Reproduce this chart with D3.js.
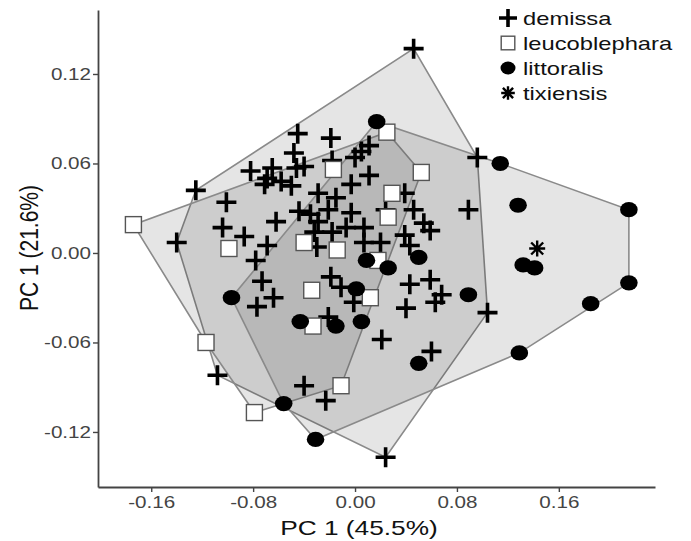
<!DOCTYPE html>
<html>
<head>
<meta charset="utf-8">
<script src="https://cdn.jsdelivr.net/npm/d3@7"></script>
<style>
body { margin: 0; background: #fff; }
svg text { font-family: "Liberation Sans", Arial, sans-serif; }
</style>
</head>
<body>
<div id="chart"></div>
<script>
var xTicks = [-0.16, -0.08, 0, 0.08, 0.16]
var yTicks = [-0.12, -0.06, 0, 0.06, 0.12]
var xTitle = "PC 1 (45.5%)",
    yTitle = "PC 1 (21.6%)"
var species = ["demissa", "leucoblephara", "littoralis", "tixiensis"]

var demissaX = [0.046, -0.045, -0.048, -0.019, -0.018, 0.011, 0.005, 0.000, 0.096, -0.125,
  -0.082, -0.069, -0.065, -0.058, -0.050, -0.046, -0.071, -0.101, -0.104, -0.087,
  -0.069, -0.078, -0.062, -0.044, -0.035, -0.029, -0.030, -0.073, -0.064, -0.077,
  -0.140, -0.040, 0.011, -0.003, -0.015, -0.021, -0.003, -0.029, -0.032, -0.018,
  -0.007, 0.007, 0.007, 0.020, 0.039, 0.046, 0.024, 0.054, 0.059, 0.039,
  0.043, 0.089, -0.019, -0.011, -0.001, 0.043, 0.059, 0.068, 0.063, 0.040,
  0.104, -0.021, -0.108, -0.040, -0.023, 0.021, 0.060, 0.024]
var demissaY = [0.137, 0.080, 0.067, 0.077, 0.062, 0.072, 0.068, 0.064, 0.064, 0.042,
  0.055, 0.050, 0.057, 0.048, 0.045, 0.057, 0.046, 0.034, 0.017, 0.011,
  0.005, -0.005, 0.021, 0.028, 0.026, 0.040, 0.004, -0.019, -0.030, -0.036,
  0.007, 0.058, 0.052, 0.046, 0.037, 0.029, 0.027, 0.021, 0.014, 0.014,
  0.017, 0.017, 0.007, 0.007, 0.040, 0.029, 0.029, 0.020, 0.015, 0.012,
  0.005, 0.029, -0.016, -0.023, -0.033, -0.021, -0.018, -0.028, -0.033, -0.037,
  -0.040, -0.043, -0.082, -0.089, -0.099, -0.058, -0.066, -0.137]

var leucoX = [-0.174, -0.117, -0.079, -0.099, -0.040, -0.034, -0.033, -0.011, 0.012, -0.014,
  -0.017, 0.025, 0.052, 0.029, 0.026, 0.018]
var leucoY = [0.019, -0.060, -0.107, 0.003, 0.007, -0.025, -0.049, -0.089, -0.030, 0.002,
  0.056, 0.081, 0.054, 0.040, 0.024, -0.005]

var littoX = [0.017, 0.114, 0.128, 0.215, 0.132, 0.141, 0.215, 0.185, 0.129, 0.089,
  0.050, 0.009, 0.026, 0.001, 0.050, -0.015, 0.005, -0.043, -0.097, -0.056, -0.031]
var littoY = [0.088, 0.060, 0.032, 0.029, -0.008, -0.010, -0.020, -0.034, -0.067, -0.028,
  -0.003, -0.005, -0.010, -0.024, -0.074, -0.049, -0.046, -0.046, -0.030, -0.101, -0.125]

var tixiX = [0.143]
var tixiY = [0.003]

var width = 691, height = 541
var margin = {left: 98, right: 36, top: 10, bottom: 54}

var svg = d3.select("#chart").append("svg")
    .attr("width", width)
    .attr("height", height)

var x = d3.scaleLinear().domain([-0.2018, 0.2355]).range([margin.left, width - margin.right])
var y = d3.scaleLinear().domain([-0.1569, 0.1629]).range([height - margin.bottom, margin.top])

function pts(xs, ys) {
  return xs.map(function(v, i) { return {x: v, y: ys[i]} })
}
var groups = [
  {name: "demissa", shape: "cross", data: pts(demissaX, demissaY)},
  {name: "leucoblephara", shape: "square", data: pts(leucoX, leucoY)},
  {name: "littoralis", shape: "circle", data: pts(littoX, littoY)},
  {name: "tixiensis", shape: "star", data: pts(tixiX, tixiY)}
]

// hulls
groups.forEach(function(g) {
  var hull = d3.polygonHull(g.data.map(function(d) { return [x(d.x), y(d.y)] }))
  if (!hull) return
  svg.append("path")
      .attr("d", "M" + hull.join("L") + "Z")
      .attr("fill", "#000")
      .attr("fill-opacity", 0.1)
      .attr("stroke", "#8a8a8a")
      .attr("stroke-width", 1.6)
})

function drawSymbol(sel, shape, s) {
  if (shape == "cross") {
    sel.append("path").attr("d", "M" + (-s) + ",0H" + s + "M0," + (-s) + "V" + s)
        .attr("stroke", "#000").attr("stroke-width", 3.6)
  } else if (shape == "square") {
    sel.append("rect").attr("x", -s * 0.8).attr("y", -s * 0.8)
        .attr("width", s * 1.6).attr("height", s * 1.6)
        .attr("fill", "#fff").attr("stroke", "#555").attr("stroke-width", 1.4)
  } else if (shape == "circle") {
    sel.append("ellipse").attr("rx", s * 0.88).attr("ry", s * 0.76).attr("fill", "#000")
  } else {
    var a = s * 0.8
    sel.append("path")
        .attr("d", "M" + (-a) + ",0H" + a + "M0," + (-a) + "V" + a +
          "M" + (-a * 0.75) + "," + (-a * 0.75) + "L" + (a * 0.75) + "," + (a * 0.75) +
          "M" + (-a * 0.75) + "," + (a * 0.75) + "L" + (a * 0.75) + "," + (-a * 0.75))
        .attr("stroke", "#000").attr("stroke-width", 2.4)
  }
}

// points
groups.forEach(function(g) {
  svg.append("g").selectAll("g")
    .data(g.data)
    .enter().append("g")
      .attr("transform", function(d) { return "translate(" + x(d.x) + "," + y(d.y) + ")" })
      .each(function() { drawSymbol(d3.select(this), g.shape, 10) })
})

// axes
var xAxis = svg.append("g")
    .attr("transform", "translate(0," + (height - margin.bottom) + ")")
    .call(d3.axisBottom(x).tickValues(xTicks).tickSize(5).tickSizeOuter(0)
      .tickFormat(function(d) { return d.toFixed(2) }))
var yAxis = svg.append("g")
    .attr("transform", "translate(" + margin.left + ",0)")
    .call(d3.axisLeft(y).tickValues(yTicks).tickSize(5).tickSizeOuter(0)
      .tickFormat(function(d) { return d.toFixed(2) }))

svg.selectAll(".domain").attr("stroke", "#444").attr("stroke-width", 1.8)
svg.selectAll(".tick line").attr("stroke", "#444").attr("stroke-width", 1.4)
xAxis.selectAll(".tick text")
    .attr("font-size", 16.5).attr("fill", "#444")
    .attr("y", 9.6).attr("dy", "0.71em")
    .attr("transform", "scale(1.25,1)")
yAxis.selectAll(".tick text")
    .attr("font-size", 16.5).attr("fill", "#444")
    .attr("x", -5.6)
    .attr("transform", "scale(1.25,1)")

svg.append("text")
    .attr("transform", "translate(359,535) scale(1.25,1)")
    .attr("text-anchor", "middle")
    .attr("font-size", 21)
    .attr("fill", "#111")
    .text(xTitle)
svg.append("text")
    .attr("transform", "translate(38,248) scale(1.25,1) rotate(-90)")
    .attr("text-anchor", "middle")
    .attr("font-size", 21)
    .attr("fill", "#111")
    .text(yTitle)

// legend
var legend = svg.append("g").attr("transform", "translate(508,18)")
groups.forEach(function(g, i) {
  var row = legend.append("g").attr("transform", "translate(0," + (i * 25) + ")")
  drawSymbol(row, g.shape, g.shape == "cross" ? 9 : 8.5)
  row.append("text")
      .attr("transform", "translate(15,0) scale(1.25,1)")
      .attr("dy", "0.35em")
      .attr("font-size", 19)
      .attr("fill", "#111")
      .text(g.name)
})
</script>
</body>
</html>
